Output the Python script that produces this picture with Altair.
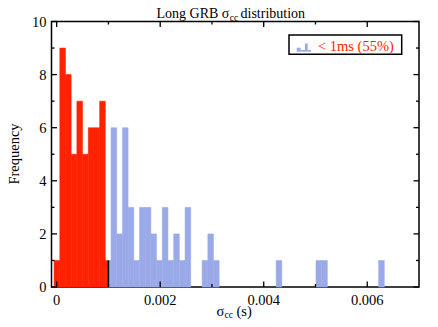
import altair as alt
import pandas as pd

# ---------------- data ----------------
first_edge = -0.00005          # left edge of first histogram bin (s)
bin_width = 0.00011            # histogram bin width (s)
cutoff = 0.001                 # 1 ms split between the two colours

# counts for bins 0..9 (red part, x < 1 ms)
red_counts = [1, 9, 8, 5, 7, 5, 6, 6, 7, 1]
# counts for bins 9..57 (blue part, x >= 1 ms)
blue_first_bin = 9
blue_counts = [1, 6, 2, 6, 3, 1, 3, 3, 2, 1,
               3, 1, 2, 1, 3, 0, 0, 1, 2, 1,
               0, 0, 0, 0, 0, 0, 0, 0, 0, 0,
               1, 0, 0, 0, 0, 0, 0, 1, 1, 0,
               0, 0, 0, 0, 0, 0, 0, 0, 1]

x_major = [0, 0.002, 0.004, 0.006]
x_labels = ["0", "0.002", "0.004", "0.006"]
x_minor = [0.001, 0.003, 0.005]
y_major = [0, 2, 4, 6, 8, 10]
y_labels = ["0", "2", "4", "6", "8", "10"]
y_minor = [1, 3, 5, 7, 9]

title_parts = ["Long GRB σ", "cc", "distribution"]
xtitle_parts = ["σ", "cc", "(s)"]
ytitle = "Frequency"
legend_label = "< 1ms (55%)"

# ---------------- build tables ----------------
rows = []
for k, c in enumerate(red_counts):
    e0 = first_edge + k * bin_width
    e1 = first_edge + (k + 1) * bin_width
    if c > 0:
        rows.append({"x0": e0, "x1": min(e1, cutoff), "count": c, "base": 0, "group": "lt"})
for i, c in enumerate(blue_counts):
    k = blue_first_bin + i
    e0 = first_edge + k * bin_width
    e1 = first_edge + (k + 1) * bin_width
    if c > 0:
        rows.append({"x0": max(e0, cutoff), "x1": e1, "count": c, "base": 0, "group": "gt"})
df_bars = pd.DataFrame(rows)

FONT = "Liberation Serif"
RED = "#ff2200"
BLUE = "#9aaae8"
W, H = 367.5, 265.5
OX, OY = 51.5, 21.5   # page position of plot origin

xs = alt.Scale(domain=[-0.0001, 0.007], nice=False, zero=False)
ys = alt.Scale(domain=[0, 10], nice=False)
cscale = alt.Scale(domain=["lt", "gt"], range=[RED, BLUE])

bars = alt.Chart(df_bars).mark_rect(strokeWidth=0.5).encode(
    x=alt.X("x0:Q", scale=xs, axis=None),
    x2="x1:Q",
    y=alt.Y("count:Q", scale=ys, axis=None),
    y2="base:Q",
    color=alt.Color("group:N", scale=cscale, legend=None),
    stroke=alt.Stroke("group:N", scale=cscale, legend=None),
)

cut = alt.Chart(pd.DataFrame({"x": [cutoff], "y0": [0], "y1": [1]})).mark_rule(
    color="black", strokeWidth=1.5).encode(
    x=alt.X("x:Q", scale=xs, axis=None),
    y=alt.Y("y0:Q", scale=ys, axis=None),
    y2="y1:Q",
)

def xticks(vals, L):
    d = pd.DataFrame({"v": vals})
    b = alt.Chart(d).mark_rule(color="black", strokeWidth=1.3).encode(
        x=alt.X("v:Q", scale=xs, axis=None), y=alt.value(H), y2=alt.value(H - L))
    t = alt.Chart(d).mark_rule(color="black", strokeWidth=1.3).encode(
        x=alt.X("v:Q", scale=xs, axis=None), y=alt.value(0), y2=alt.value(L))
    return [b, t]

def yticks(vals, L):
    d = pd.DataFrame({"v": vals})
    l = alt.Chart(d).mark_rule(color="black", strokeWidth=1.3).encode(
        y=alt.Y("v:Q", scale=ys, axis=None), x=alt.value(0), x2=alt.value(L))
    r = alt.Chart(d).mark_rule(color="black", strokeWidth=1.3).encode(
        y=alt.Y("v:Q", scale=ys, axis=None), x=alt.value(W), x2=alt.value(W - L))
    return [l, r]

xlab = alt.Chart(pd.DataFrame({"v": x_major, "t": x_labels})).mark_text(
    font=FONT, fontSize=14.5, color="black", align="center", baseline="alphabetic").encode(
    x=alt.X("v:Q", scale=xs, axis=None), y=alt.value(305 - OY), text="t:N")
ylab = alt.Chart(pd.DataFrame({"v": y_major, "t": y_labels})).mark_text(
    font=FONT, fontSize=14.5, color="black", align="right", baseline="alphabetic", dy=5).encode(
    y=alt.Y("v:Q", scale=ys, axis=None), x=alt.value(46.5 - OX), text="t:N")

one = pd.DataFrame({"a": [0]})

def text(s, px, py, size=14, color="black", align="left", baseline="alphabetic", angle=0):
    kw = dict(text=s, font=FONT, fontSize=size, color=color, align=align, baseline=baseline)
    if angle:
        kw["angle"] = angle
    return alt.Chart(one).mark_text(**kw).encode(x=alt.value(px - OX), y=alt.value(py - OY))

def box(x0, y0, x1, y1, **kw):
    return alt.Chart(one).mark_rect(**kw).encode(
        x=alt.value(x0 - OX), x2=alt.value(x1 - OX), y=alt.value(y0 - OY), y2=alt.value(y1 - OY))

layers = [bars, cut, xlab, ylab]
layers += xticks(x_major, 5.5) + xticks(x_minor, 3)
layers += yticks(y_major, 5.5) + yticks(y_minor, 3)

# title with subscript
layers += [
    text(title_parts[0], 156.5, 18, 14),
    text(title_parts[1], 229.8, 20.5, 9.5),
    text(title_parts[2], 240.5, 18, 14),
]
# x axis title
layers += [
    text(xtitle_parts[0], 216.5, 315.5, 14.5),
    text(xtitle_parts[1], 224.5, 318, 9.5),
    text(xtitle_parts[2], 236.5, 315.5, 14.5),
]
# y axis title
layers += [text(ytitle, 15, 154, 14.5, align="center", baseline="middle", angle=270)]

# legend
layers += [
    box(289, 35, 401.7, 54.3, fill="white", stroke="black", strokeWidth=1.5),
    box(296.7, 47.7, 300.7, 51.7, fill=BLUE),
    box(300.7, 50.0, 305.0, 51.7, fill=BLUE),
    box(305.0, 43.5, 307.7, 51.7, fill=BLUE),
    box(307.7, 50.0, 311.0, 51.7, fill=BLUE),
    text(legend_label, 318, 50.5, 14.5, color=RED),
]

chart = alt.layer(*layers).properties(
    width=W, height=H,
    autosize=alt.AutoSizeParams(type="none"),
    padding={"left": OX - 8, "top": OY - 8, "right": 11, "bottom": 32},
).configure_view(stroke="black", strokeWidth=1.5)

chart.save("out.html", embed_options={"renderer": "svg", "actions": False})
